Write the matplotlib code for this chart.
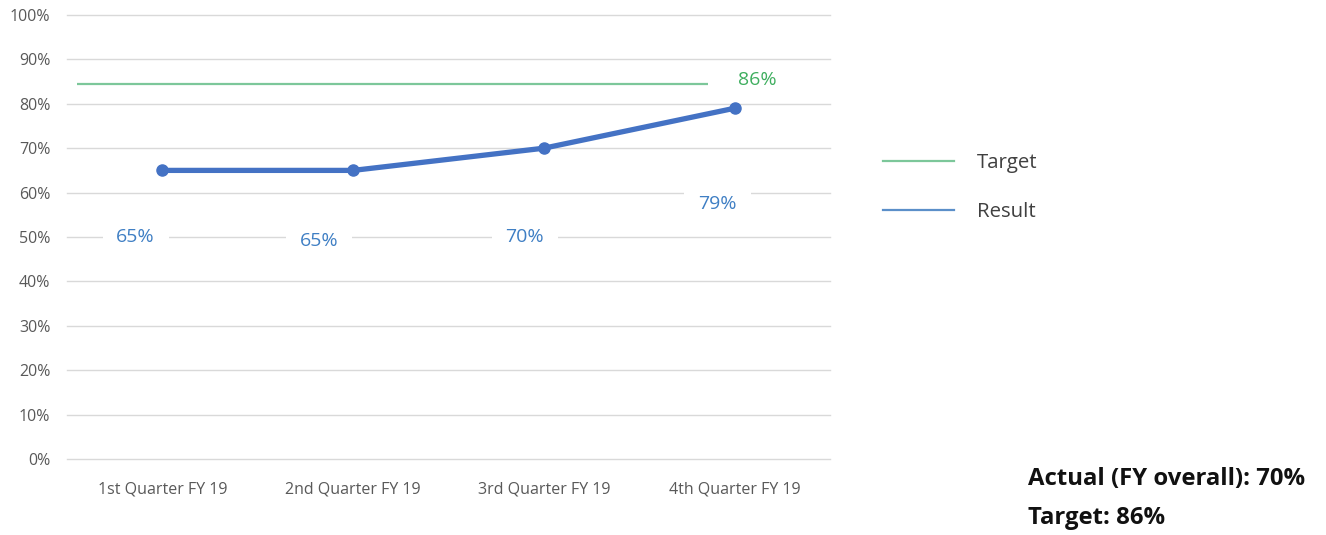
import matplotlib
matplotlib.use("Agg")
import matplotlib.pyplot as plt
from matplotlib.lines import Line2D

quarters = ["1st Quarter FY 19", "2nd Quarter FY 19", "3rd Quarter FY 19", "4th Quarter FY 19"]
result = [65, 65, 70, 79]
result_labels = ["65%", "65%", "70%", "79%"]
label_y = [50, 49, 50, 57.5]        # where the data labels sit
target_line = 84.5                  # drawn position of the target line
target_value = 86
actual_overall = 70

plt.rcParams['font.family'] = ['Open Sans', 'DejaVu Sans']

fig = plt.figure(figsize=(13.26, 5.35), dpi=100)
ax = fig.add_axes([0.0505, 0.142, 0.5755, 0.830])

x = list(range(len(quarters)))
ax.set_xlim(-0.5, len(quarters) - 0.5)
ax.set_ylim(0, 100)
ax.set_yticks(range(0, 101, 10))
ax.set_yticklabels(["{}%".format(v) for v in range(0, 101, 10)])
ax.set_xticks(x)
ax.set_xticklabels(quarters)
ax.grid(axis='y', color='#d9d9d9', lw=1)
for gl in ax.get_ygridlines():
    gl.set_clip_on(False)
ax.set_axisbelow(True)
for s in ax.spines.values():
    s.set_visible(False)
ax.tick_params(length=0, colors='#595959', labelsize=11.5)
ax.tick_params(axis='x', pad=16)
ax.tick_params(axis='y', pad=12)

green = '#7cc79a'
blue = '#4472c4'

ax.hlines(target_line, -0.45, 2.86, color=green, lw=1.6)
ax.text(3.015, 85.4, "{}%".format(target_value), color='#3fae5f', fontsize=14,
        ha='left', va='center')

ax.plot(x, result, color=blue, lw=3.8, marker='o', ms=8, solid_capstyle='round')

label_dx = [-0.14, -0.18, -0.1, -0.09]
for xi, ly, lab, dx in zip(x, label_y, result_labels, label_dx):
    ax.text(xi + dx, ly, lab, color='#3f7fc4', fontsize=14, ha='center', va='center',
            bbox=dict(facecolor='white', edgecolor='none', pad=10))

handles = [Line2D([], [], color=green, lw=1.6), Line2D([], [], color='#5b8fc9', lw=1.6)]
fig.legend(handles, ["Target", "Result"], loc='upper left', bbox_to_anchor=(0.652, 0.748),
           frameon=False, fontsize=14.7, handlelength=3.5, handletextpad=1.1, labelspacing=1.42,
           labelcolor='#404040')

fig.text(0.775, 0.104, "Actual (FY overall): {}%".format(actual_overall), fontsize=17.2,
         fontweight='bold', color='#111111', va='center')
fig.text(0.775, 0.032, "Target: {}%".format(target_value), fontsize=17.2,
         fontweight='bold', color='#111111', va='center')

fig.savefig("out.png", dpi=100, facecolor='white')
